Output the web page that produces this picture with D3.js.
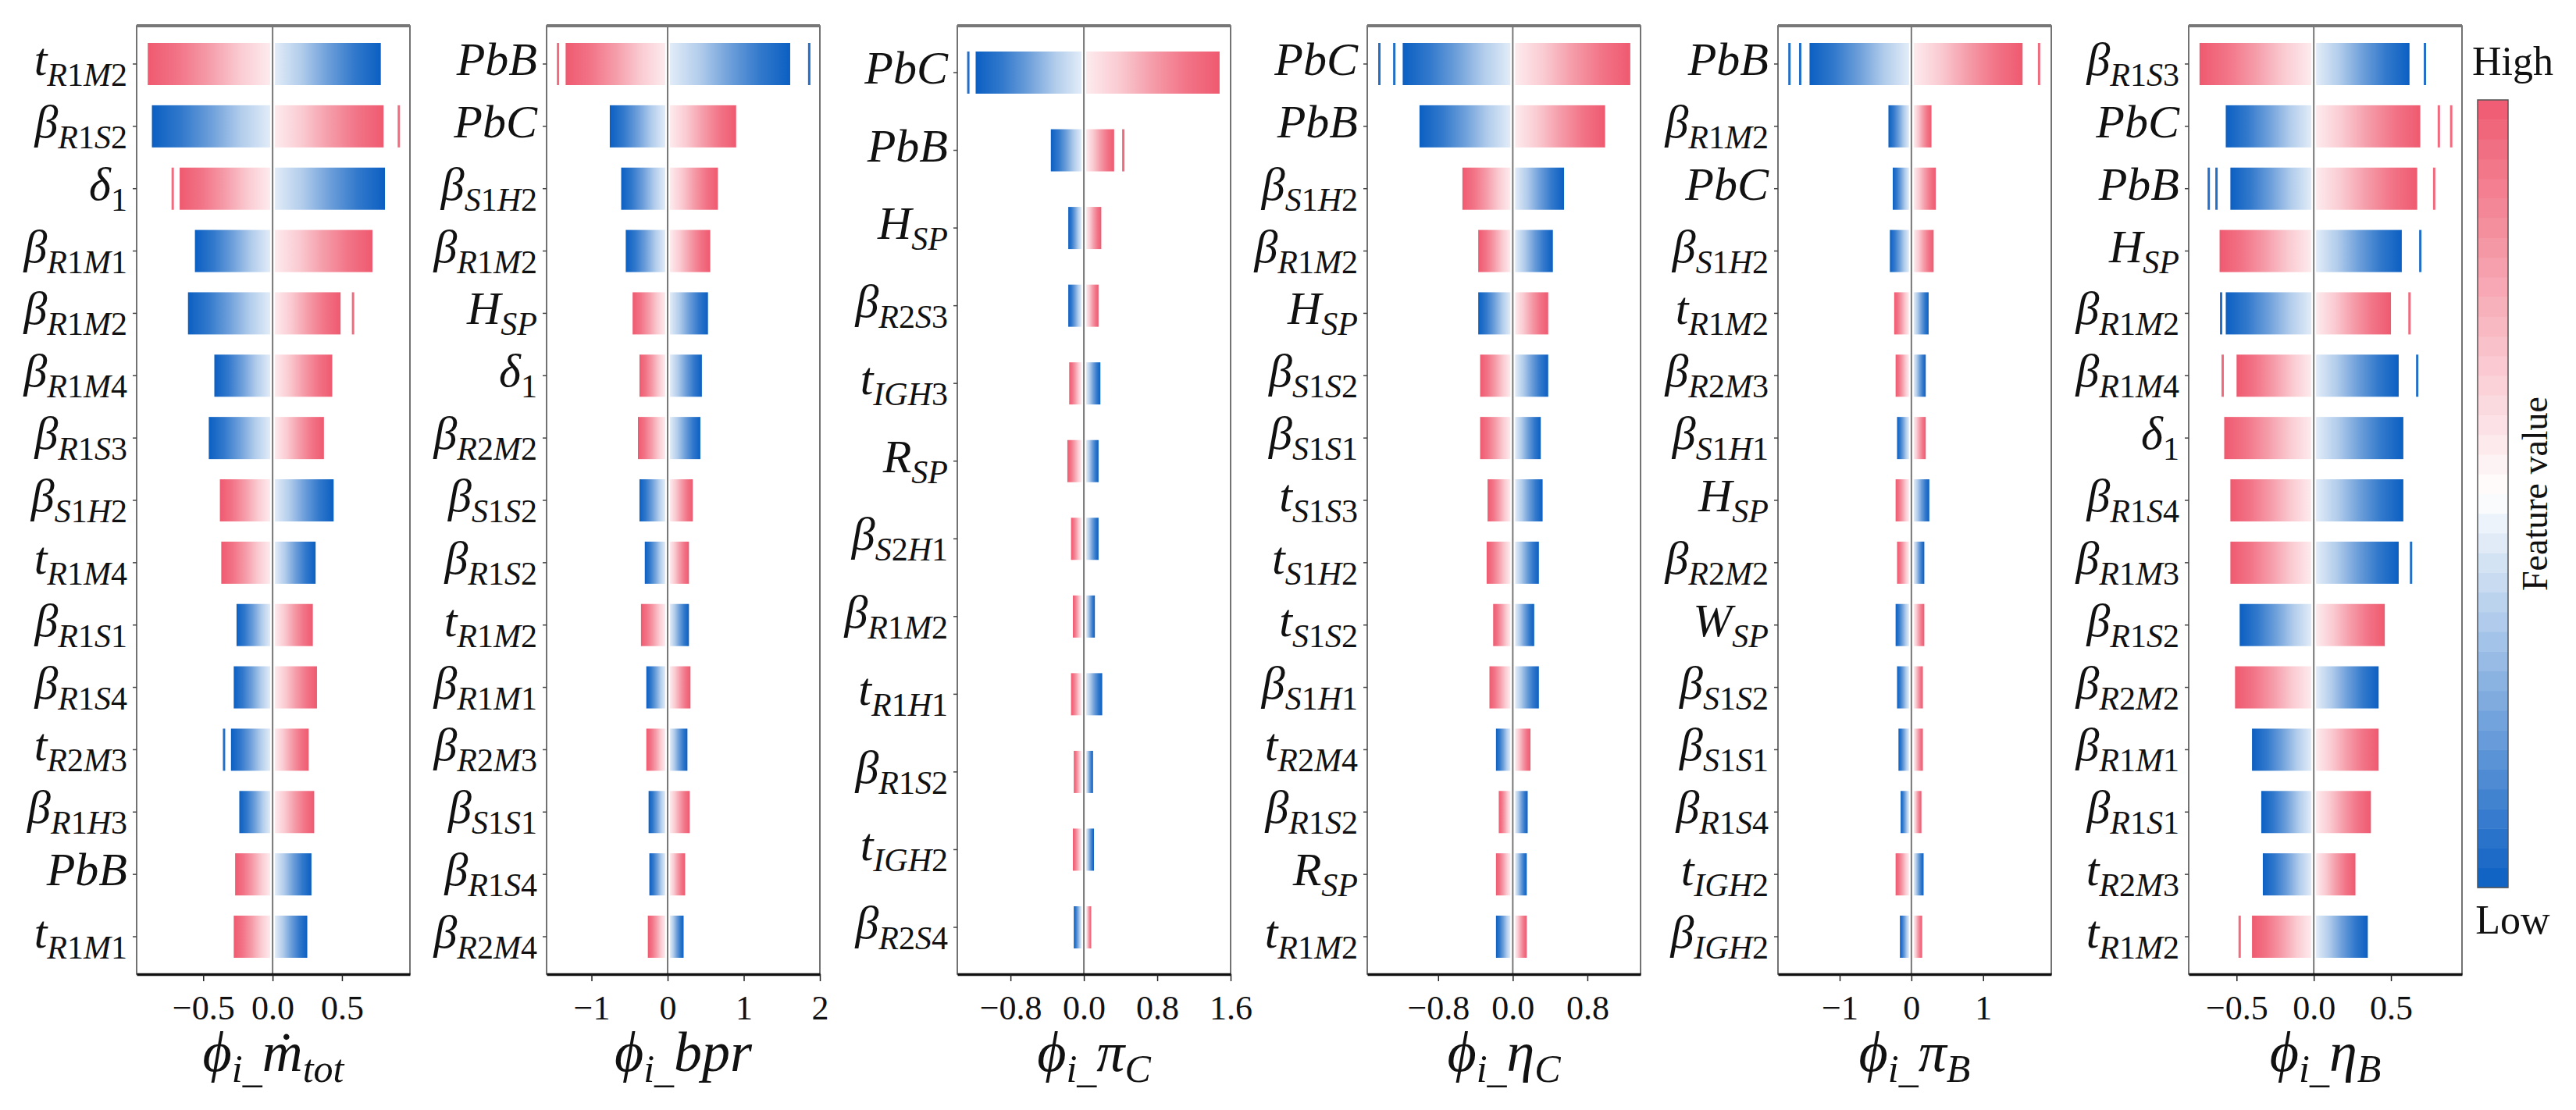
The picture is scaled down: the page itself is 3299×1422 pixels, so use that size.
<!DOCTYPE html>
<html>
<head>
<meta charset="utf-8">
<script src="https://cdn.jsdelivr.net/npm/d3@7"></script>
<style>
  body { margin: 0; background: #fff; }
  text { font-family: "Liberation Serif", "DejaVu Serif", serif; fill: #111; }
</style>
</head>
<body>
<div class="d3-container"></div>
<script>
// each row: [label main, label subscript, min phi, max phi, dir]
// dir = +1 means high feature values push phi up (red on the right)
const rows1 = [
  ["t","R1M2",-0.90,0.78,-1], ["β","R1S2",-0.87,0.80,1], ["δ","1",-0.67,0.81,-1],
  ["β","R1M1",-0.56,0.72,1], ["β","R1M2",-0.61,0.49,1], ["β","R1M4",-0.42,0.43,1],
  ["β","R1S3",-0.46,0.37,1], ["β","S1H2",-0.38,0.44,-1], ["t","R1M4",-0.37,0.31,-1],
  ["β","R1S1",-0.26,0.29,1], ["β","R1S4",-0.28,0.32,1], ["t","R2M3",-0.30,0.26,1],
  ["β","R1H3",-0.24,0.30,1], ["PbB","",-0.27,0.28,-1], ["t","R1M1",-0.28,0.25,-1]
];
const rows2 = [
  ["PbB","",-1.34,1.61,-1], ["PbC","",-0.76,0.90,1], ["β","S1H2",-0.61,0.66,1],
  ["β","R1M2",-0.55,0.56,1], ["H","SP",-0.46,0.53,-1], ["δ","1",-0.37,0.45,-1],
  ["β","R2M2",-0.39,0.43,-1], ["β","S1S2",-0.37,0.33,1], ["β","R1S2",-0.30,0.28,1],
  ["t","R1M2",-0.35,0.28,-1], ["β","R1M1",-0.28,0.30,1], ["β","R2M3",-0.28,0.26,-1],
  ["β","S1S1",-0.25,0.29,1], ["β","R1S4",-0.24,0.23,1], ["β","R2M4",-0.26,0.21,-1]
];
const rows3 = [
  ["PbC","",-1.18,1.48,1], ["PbB","",-0.36,0.33,1], ["H","SP",-0.17,0.19,1],
  ["β","R2S3",-0.17,0.16,1], ["t","IGH3",-0.16,0.18,-1], ["R","SP",-0.18,0.16,-1],
  ["β","S2H1",-0.14,0.16,-1], ["β","R1M2",-0.12,0.12,-1], ["t","R1H1",-0.14,0.20,-1],
  ["β","R1S2",-0.11,0.10,-1], ["t","IGH2",-0.12,0.11,-1], ["β","R2S4",-0.11,0.08,1]
];
const rows4 = [
  ["PbC","",-1.18,1.26,1], ["PbB","",-1.00,0.99,1], ["β","S1H2",-0.54,0.55,-1],
  ["β","R1M2",-0.37,0.43,-1], ["H","SP",-0.37,0.38,1], ["β","S1S2",-0.35,0.38,-1],
  ["β","S1S1",-0.35,0.30,-1], ["t","S1S3",-0.27,0.32,-1], ["t","S1H2",-0.28,0.28,-1],
  ["t","S1S2",-0.21,0.23,-1], ["β","S1H1",-0.25,0.28,-1], ["t","R2M4",-0.18,0.19,1],
  ["β","R1S2",-0.15,0.16,-1], ["R","SP",-0.18,0.15,-1], ["t","R1M2",-0.18,0.15,1]
];
const rows5 = [
  ["PbB","",-1.42,1.55,1], ["β","R1M2",-0.32,0.28,1], ["PbC","",-0.26,0.34,1],
  ["β","S1H2",-0.30,0.31,1], ["t","R1M2",-0.24,0.24,-1], ["β","R2M3",-0.22,0.20,-1],
  ["β","S1H1",-0.20,0.20,1], ["H","SP",-0.22,0.25,-1], ["β","R2M2",-0.20,0.18,-1],
  ["W","SP",-0.22,0.18,1], ["β","S1S2",-0.20,0.16,1], ["β","S1S1",-0.18,0.16,1],
  ["β","R1S4",-0.15,0.14,1], ["t","IGH2",-0.22,0.17,-1], ["β","IGH2",-0.16,0.15,1]
];
const rows6 = [
  ["β","R1S3",-0.74,0.62,-1], ["PbC","",-0.57,0.69,1], ["PbB","",-0.54,0.67,1],
  ["H","SP",-0.61,0.57,-1], ["β","R1M2",-0.57,0.50,1], ["β","R1M4",-0.50,0.55,-1],
  ["δ","1",-0.58,0.58,-1], ["β","R1S4",-0.54,0.58,-1], ["β","R1M3",-0.54,0.55,-1],
  ["β","R1S2",-0.48,0.46,1], ["β","R2M2",-0.51,0.42,-1], ["β","R1M1",-0.40,0.42,1],
  ["β","R1S1",-0.34,0.37,1], ["t","R2M3",-0.33,0.27,1], ["t","R1M2",-0.40,0.35,-1]
];

// lone extreme points: [row index, phi]
const out1 = [[1,0.91],[2,-0.72],[4,0.58],[11,-0.35]];
const out2 = [[0,-1.44],[0,1.86]];
const out3 = [[0,-1.26],[1,0.43]];
const out4 = [[0,-1.43],[0,-1.27]];
const out5 = [[0,-1.70],[0,-1.55],[0,1.78]];
const out6 = [[0,0.72],[1,0.81],[1,0.89],[2,-0.68],[2,-0.63],[2,0.78],[3,0.69],[4,-0.60],[4,0.62],[5,-0.59],[5,0.67],[8,0.63],[14,-0.48]];

const domains = [[-0.98,0.99],[-1.59,2],[-1.38,1.6],[-1.56,1.37],[-1.86,1.95],[-0.81,0.96]];
const ticks = [[-0.5,0,0.5],[-1,0,1,2],[-0.8,0,0.8,1.6],[-0.8,0,0.8],[-1,0,1],[-0.5,0,0.5]];
const tickFmt = [".1f","d",".1f",".1f","d",".1f"];
// axis title: [main symbol, subscript]
const titles = [["ṁ","tot"],["bpr",""],["π","C"],["η","C"],["π","B"],["η","B"]];

const panels = [rows1,rows2,rows3,rows4,rows5,rows6];
const outs = [out1,out2,out3,out4,out5,out6];

const width = 3299, height = 1422;
const panelLeft = [175,700,1226,1751,2277,2803];
const panelW = 350;
const plotTop = 33, plotBottom = 1248;
const barH = 54;

const color = d3.scaleLinear()
  .domain([0, 0.5, 1])
  .range(["#0b5fc2", "#ffffff", "#ef5a70"]);

const svg = d3.select(".d3-container")
  .append("svg")
  .attr("width", width)
  .attr("height", height);

const defs = svg.append("defs");
// gradients: outer end saturated, inner end (near zero) pale
function grad(id, hi, redOuter) {
  const g = defs.append("linearGradient").attr("id", id)
    .attr("x1", hi ? "0%" : "100%").attr("x2", hi ? "100%" : "0%");
  const stops = redOuter ? [0.56,0.66,0.8,0.92,1] : [0.44,0.34,0.2,0.08,0];
  stops.forEach((t, i) => {
    g.append("stop").attr("offset", (i / (stops.length - 1) * 100) + "%").attr("stop-color", color(t));
  });
}
grad("rR", true, true);   // red on right side
grad("bR", true, false);  // blue on right side
grad("rL", false, true);  // red on left
grad("bL", false, false); // blue on left

function label(sel, main, sub, size, subSize, shift) {
  const runs = s => s.match(/\d+|\D+/g) || [];
  runs(main).forEach(r => sel.append("tspan").text(r)
    .attr("font-style", /\d/.test(r) ? "normal" : "italic").attr("font-size", size));
  if (sub) {
    runs(sub).forEach((r, i) => {
      const t = sel.append("tspan").text(r)
        .attr("font-style", /\d/.test(r) ? "normal" : "italic").attr("font-size", subSize);
      if (i === 0) t.attr("dy", shift);
    });
  }
}

panels.forEach((rows, p) => {
  const x0 = panelLeft[p];
  const x = d3.scaleLinear().domain(domains[p]).range([x0, x0 + panelW]);
  const y = d3.scalePoint()
    .domain(d3.range(rows.length))
    .range(rows.length === 15 ? [82, 1200] : [93, 1188]);
  const g = svg.append("g");

  // frame
  g.append("rect").attr("x", x0).attr("y", plotTop).attr("width", panelW).attr("height", plotBottom - plotTop)
    .attr("fill", "none").attr("stroke", "#444").attr("stroke-width", 1.5);
  g.append("line").attr("x1", x0).attr("x2", x0 + panelW).attr("y1", plotTop).attr("y2", plotTop)
    .attr("stroke", "#777").attr("stroke-width", 4);

  // bars
  const gap = 3;
  rows.forEach((r, i) => {
    const [m, s, lo, hi, dir] = r;
    g.append("rect").attr("x", x(lo)).attr("y", y(i) - barH / 2)
      .attr("width", x(0) - gap - x(lo)).attr("height", barH)
      .attr("fill", dir > 0 ? "url(#bL)" : "url(#rL)");
    g.append("rect").attr("x", x(0) + gap).attr("y", y(i) - barH / 2)
      .attr("width", x(hi) - x(0) - gap).attr("height", barH)
      .attr("fill", dir > 0 ? "url(#rR)" : "url(#bR)");
  });
  outs[p].forEach(([i, v]) => {
    const dir = rows[i][4];
    const red = (v > 0) === (dir > 0);
    g.append("rect").attr("x", x(v) - 1.5).attr("y", y(i) - barH / 2)
      .attr("width", 3).attr("height", barH)
      .attr("fill", red ? color(0.95) : color(0.05));
  });

  // zero line
  g.append("line").attr("x1", x(0)).attr("x2", x(0)).attr("y1", plotTop).attr("y2", plotBottom)
    .attr("stroke", "#777").attr("stroke-width", 2);

  // y labels and ticks
  rows.forEach((r, i) => {
    g.append("line").attr("x1", x0 - 5).attr("x2", x0).attr("y1", y(i)).attr("y2", y(i))
      .attr("stroke", "#444").attr("stroke-width", 1.5);
    const t = g.append("text").attr("x", x0 - 12).attr("y", y(i) + 14)
      .attr("text-anchor", "end");
    label(t, r[0], r[1], 60, 42, 14);
  });

  // x axis
  const ax = g.append("g").attr("transform", `translate(0,${plotBottom})`)
    .call(d3.axisBottom(x).tickValues(ticks[p]).tickFormat(d3.format(tickFmt[p])).tickSize(9).tickSizeOuter(0));
  ax.select(".domain").attr("stroke", "#111").attr("stroke-width", 3.5);
  ax.selectAll(".tick line").attr("stroke", "#222").attr("stroke-width", 1.5);
  ax.selectAll(".tick text").attr("font-size", 44).attr("dy", "1.05em")
    .attr("font-family", "Liberation Serif").attr("fill", "#111");

  // axis title
  const tt = g.append("text").attr("x", x0 + panelW / 2).attr("y", 1372).attr("text-anchor", "middle");
  tt.append("tspan").text("ϕ").attr("font-style", "italic").attr("font-size", 72);
  tt.append("tspan").text("i_").attr("font-style", "italic").attr("font-size", 50).attr("dy", 14);
  tt.append("tspan").text(titles[p][0]).attr("font-style", "italic").attr("font-size", 72).attr("dy", -14);
  if (titles[p][1]) tt.append("tspan").text(titles[p][1]).attr("font-style", "italic").attr("font-size", 50).attr("dy", 14);
});

// colour bar
const cbX = 3173, cbW = 39, cbTop = 128, cbBot = 1137;
const cb = d3.scaleLinear().domain([0, 1]).range([cbBot, cbTop]);
const nSteps = 40;
svg.append("g").selectAll("rect")
  .data(d3.range(nSteps))
  .join("rect")
  .attr("x", cbX)
  .attr("y", d => cb((d + 1) / nSteps))
  .attr("width", cbW)
  .attr("height", d => cb(d / nSteps) - cb((d + 1) / nSteps) + 0.5)
  .attr("fill", d => color((d + 0.5) / nSteps));
svg.append("rect").attr("x", cbX).attr("y", cbTop).attr("width", cbW).attr("height", cbBot - cbTop)
  .attr("fill", "none").attr("stroke", "#555").attr("stroke-width", 1.5);
svg.append("text").attr("x", 3218).attr("y", 96).attr("text-anchor", "middle").attr("font-size", 52).text("High");
svg.append("text").attr("x", 3218).attr("y", 1196).attr("text-anchor", "middle").attr("font-size", 52).text("Low");
svg.append("text").attr("transform", `translate(3262,${(cbTop + cbBot) / 2}) rotate(-90)`)
  .attr("text-anchor", "middle").attr("font-size", 46).text("Feature value");
</script>
</body>
</html>
